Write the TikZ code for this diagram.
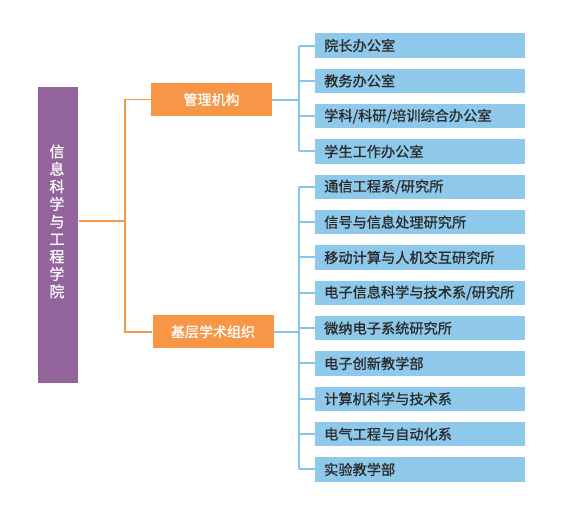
\documentclass[tikz,border=0pt]{standalone}
\usepackage{fontspec}
\setmainfont{Noto Sans CJK SC}
\newfontfamily\cjk[FakeBold=0.8]{Noto Sans CJK SC}
\definecolor{purp}{HTML}{93649B}
\definecolor{orng}{HTML}{F79646}
\definecolor{bluebox}{HTML}{8EC8EA}
\definecolor{blueline}{HTML}{88C4EA}
\definecolor{txt}{HTML}{2A2A2A}
\begin{document}
\begin{tikzpicture}[x=1pt,y=-1pt,
  rootbox/.style={fill=purp,draw=none,minimum width=40pt,minimum height=296pt,inner sep=0pt},
  roottext/.style={text=white,font=\cjk\fontsize{15}{17.5}\selectfont,align=center,inner sep=0pt},
  midbox/.style={fill=orng,draw=none,minimum width=121pt,minimum height=32.5pt,inner sep=0pt,text=white,font=\cjk\fontsize{14}{16}\selectfont},
  leafbox/.style={fill=bluebox,draw=none,anchor=west,text width=192pt,inner xsep=9pt,inner ysep=0pt,minimum height=24.5pt,align=left,text=txt,font=\cjk\fontsize{14.2}{16}\selectfont},
  oline/.style={draw=orng,line width=1.8pt},
  bline/.style={draw=blueline,line width=2pt}]
\useasboundingbox (0,0) rectangle (575,517);
\fill[white] (0,0) rectangle (575,517);
\node[rootbox] (root) at (58.3,235) {};
\node[roottext] (rt) at (57,221.5) {信\\息\\科\\学\\与\\工\\程\\学\\院};
\node[midbox] (m1) at (211.5,99.5) {管理机构};
\node[midbox] (m2) at (213,331.7) {基层学术组织};
\foreach \t [count=\i from 0] in {院长办公室,教务办公室,学科/科研/培训综合办公室,学生工作办公室,通信工程系/研究所,信号与信息处理研究所,移动计算与人机交互研究所,电子信息科学与技术系/研究所,微纳电子系统研究所,电子创新教学部,计算机科学与技术系,电气工程与自动化系,实验教学部}{
  \node[leafbox] (c\i) at (315,45.5+35.33*\i) {\t};
}
\coordinate (j) at (125,220.7);
\coordinate (bx) at (298.5,0);
\draw[oline] (root.east |- j) -- (j);
\draw[oline] (m1.west) -| (j) |- (m2.west);
\draw[bline] (m1.east) -- (m1.east -| bx);
\draw[bline] (m2.east) -- (m2.east -| bx);
\draw[bline] (c0.west -| bx) |- (c0.west);
\draw[bline] (c3.west -| bx) |- (c3.west);
\draw[bline] (c0.west -| bx) -- (c3.west -| bx);
\foreach \i in {1,2} {\draw[bline] (c\i.west -| bx) -- (c\i.west);}
\draw[bline] (c4.west -| bx) |- (c4.west);
\draw[bline] (c12.west -| bx) |- (c12.west);
\draw[bline] (c4.west -| bx) -- (c12.west -| bx);
\foreach \i in {5,...,11} {\draw[bline] (c\i.west -| bx) -- (c\i.west);}
\end{tikzpicture}
\end{document}
